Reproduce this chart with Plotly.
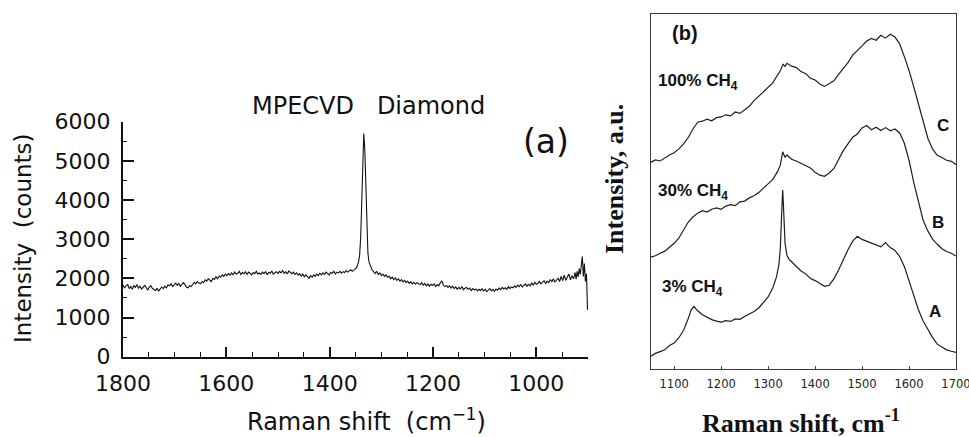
import plotly.graph_objects as go

# ---------------- (a) MPECVD diamond spectrum ----------------
shift_a = [
    1800, 1797, 1794, 1791, 1788, 1785, 1782, 1779, 1776, 1773,
    1770, 1767, 1764, 1761, 1758, 1755, 1752, 1749, 1746, 1743,
    1740, 1737, 1734, 1731, 1728, 1725, 1722, 1719, 1716, 1713,
    1710, 1707, 1704, 1701, 1698, 1695, 1692, 1689, 1686, 1683,
    1680, 1677, 1674, 1671, 1668, 1665, 1662, 1659, 1656, 1653,
    1650, 1647, 1644, 1641, 1638, 1635, 1632, 1629, 1626, 1623,
    1620, 1617, 1614, 1611, 1608, 1605, 1602, 1599, 1596, 1593,
    1590, 1587, 1584, 1581, 1578, 1575, 1572, 1569, 1566, 1563,
    1560, 1557, 1554, 1551, 1548, 1545, 1542, 1539, 1536, 1533,
    1530, 1527, 1524, 1521, 1518, 1515, 1512, 1509, 1506, 1503,
    1500, 1497, 1494, 1491, 1488, 1485, 1482, 1479, 1476, 1473,
    1470, 1467, 1464, 1461, 1458, 1455, 1452, 1449, 1446, 1443,
    1440, 1437, 1434, 1431, 1428, 1425, 1422, 1419, 1416, 1413,
    1410, 1407, 1404, 1401, 1398, 1395, 1392, 1389, 1386, 1383,
    1380, 1377, 1374, 1371, 1368, 1365, 1362, 1359, 1356, 1353,
    1350, 1348, 1346, 1344, 1342, 1340, 1338, 1336, 1334, 1332,
    1330, 1328, 1326, 1324, 1322, 1320, 1318,
    1315, 1312, 1309, 1306, 1303, 1300, 1297, 1294, 1291, 1288,
    1285, 1282, 1279, 1276, 1273, 1270, 1267, 1264, 1261, 1258,
    1255, 1252, 1249, 1246, 1243, 1240, 1237, 1234, 1231, 1228,
    1225, 1222, 1219, 1216, 1213, 1210, 1207, 1204, 1201, 1198,
    1195, 1192, 1189, 1186, 1183, 1180, 1177, 1174, 1171, 1168,
    1165, 1162, 1159, 1156, 1153, 1150, 1147, 1144, 1141, 1138,
    1135, 1132, 1129, 1126, 1123, 1120, 1117, 1114, 1111, 1108,
    1105, 1102, 1099, 1096, 1093, 1090, 1087, 1084, 1081, 1078,
    1075, 1072, 1069, 1066, 1063, 1060, 1057, 1054, 1051, 1048,
    1045, 1042, 1039, 1036, 1033, 1030, 1027, 1024, 1021, 1018,
    1015, 1012, 1009, 1006, 1003, 1000, 997, 994, 991, 988,
    985, 982, 979, 976, 973, 970, 967, 964, 961, 958,
    955, 952, 949, 946, 943, 940, 937, 934, 931, 928,
    925, 923, 921, 919, 917, 915, 913, 911, 909, 907, 905, 903, 902, 901,
]
counts_a = [
    1830, 1760, 1800, 1850, 1740, 1790, 1720, 1810, 1770, 1840,
    1750, 1800, 1730, 1790, 1820, 1760, 1700, 1780, 1810, 1740,
    1720, 1690, 1750, 1670, 1730, 1780, 1740, 1800, 1760, 1830,
    1810, 1860, 1790, 1850, 1880, 1820, 1870, 1800, 1850, 1890,
    1840, 1770, 1760, 1810, 1790, 1850, 1900, 1860, 1920, 1880,
    1860, 1920, 1890, 1960, 1930, 1990, 1950, 1920, 2000, 1970,
    2040, 1990, 2060, 2030, 2090, 2050, 2110, 2070, 2120, 2080,
    2140, 2090, 2160, 2110, 2130, 2180, 2100, 2150, 2120, 2170,
    2100, 2160, 2130, 2090, 2150, 2120, 2180, 2110, 2140, 2100,
    2160, 2120, 2170, 2090, 2150, 2130, 2190, 2110, 2140, 2170,
    2120, 2180, 2140, 2200, 2130, 2170, 2110, 2190, 2150, 2120,
    2160, 2100, 2140, 2080, 2120, 2060, 2110, 2040, 2090, 2030,
    2000, 2070, 2030, 2090, 2050, 2110, 2070, 2130, 2090, 2140,
    2100, 2160, 2120, 2090, 2150, 2130, 2180, 2110, 2160, 2140,
    2180, 2130, 2170, 2150, 2200, 2160, 2190, 2220, 2180, 2230,
    2250, 2270, 2330, 2420, 2600, 3050, 3900, 4900, 5700, 5300,
    4200, 3200, 2650, 2420, 2340, 2280, 2220,
    2170, 2120, 2180, 2100, 2140, 2070, 2110, 2050, 2090, 2030,
    2060, 1990, 2030, 1970, 2010, 1950, 1990, 1930, 1970, 1910,
    1950, 1890, 1930, 1870, 1910, 1860, 1900, 1850, 1890, 1870,
    1840, 1890, 1830, 1870, 1810, 1860, 1800, 1850, 1820, 1860,
    1790, 1840, 1810, 1880, 1940, 1830, 1790, 1820, 1770, 1810,
    1750, 1800, 1740, 1780, 1720, 1770, 1730, 1790, 1710, 1750,
    1770, 1720, 1750, 1690, 1740, 1700, 1730, 1680, 1720, 1690,
    1730, 1680, 1720, 1660, 1710, 1740, 1680, 1720, 1670, 1730,
    1700, 1750, 1710, 1770, 1730, 1760, 1720, 1790, 1740, 1780,
    1760, 1810, 1770, 1830, 1790, 1840, 1780, 1820, 1860, 1800,
    1850, 1810, 1880, 1830, 1900, 1850, 1870, 1920, 1860, 1900,
    1940, 1870, 1930, 1890, 1970, 1910, 1990, 1900, 1960, 2010,
    1920, 2050, 1940, 2080, 1950, 2030, 2110, 1960, 2070, 1990,
    2150, 1980, 2180, 2040, 2250, 2100, 2400, 2560, 2050, 2380, 1920, 2120, 1700, 1200,
]

# ---------------- (b) spectra for three CH4 fractions ----------------
shift_c = [
    1050, 1060, 1070, 1080, 1090, 1100, 1110, 1120, 1130, 1140,
    1150, 1160, 1170, 1180, 1190, 1200, 1210, 1220, 1230, 1240,
    1250, 1260, 1270, 1280, 1290, 1300, 1310, 1320, 1326, 1332,
    1336, 1340, 1350, 1360, 1370, 1380, 1390, 1400, 1410, 1420,
    1430, 1440, 1450, 1460, 1470, 1480, 1490, 1500, 1510, 1520,
    1530, 1540, 1550, 1560, 1570, 1580, 1590, 1600, 1610, 1620,
    1630, 1640, 1650, 1660, 1670, 1680, 1690, 1700,
]
int_c = [
    58.2, 58.9, 58.6, 59.5, 60.3, 60.9, 62.0, 63.4, 65.2, 67.6,
    69.5, 69.8, 70.4, 69.9, 70.8, 71.0, 71.6, 71.3, 72.4, 72.0,
    73.1, 74.0, 75.6, 76.8, 78.2, 79.4, 80.6, 82.8, 84.0, 85.9,
    85.2, 86.1, 85.3, 84.9, 83.8, 83.2, 81.9, 81.4, 80.3, 79.6,
    80.4, 81.2, 83.0, 84.6, 86.3, 88.4, 89.6, 91.0, 92.4, 93.1,
    92.6, 94.0, 93.2, 94.3, 93.5, 91.6, 88.0, 84.1, 79.5, 74.4,
    69.6, 65.0, 62.0, 60.2, 59.6, 58.8, 58.5, 57.6,
]

shift_b = [
    1050, 1060, 1070, 1080, 1090, 1100, 1110, 1120, 1130, 1140,
    1150, 1160, 1170, 1180, 1190, 1200, 1210, 1220, 1230, 1240,
    1250, 1260, 1270, 1280, 1290, 1300, 1310, 1320, 1326, 1331,
    1336, 1340, 1350, 1360, 1370, 1380, 1390, 1400, 1410, 1420,
    1430, 1440, 1450, 1460, 1470, 1480, 1490, 1500, 1510, 1520,
    1530, 1540, 1550, 1560, 1570, 1580, 1590, 1600, 1610, 1620,
    1630, 1640, 1650, 1660, 1670, 1680, 1690, 1700,
]
int_b = [
    31.5, 31.9, 32.6, 33.2, 34.3, 35.4, 36.9, 39.0, 41.4, 42.8,
    43.9, 44.6, 44.2, 45.0, 45.4, 45.0, 45.9, 46.3, 46.0, 47.1,
    47.3, 48.2, 48.8, 49.7, 50.9, 52.0, 53.4, 55.6, 57.5, 61.2,
    59.6, 60.3, 59.1, 58.6, 57.9, 57.2, 56.6, 55.4, 54.6, 54.3,
    55.2, 56.5, 58.9, 61.5, 63.4, 65.3, 66.2, 67.9, 68.6, 67.4,
    68.1, 67.2, 68.0, 67.1, 67.6, 66.5, 63.6, 58.8, 52.6, 47.2,
    41.9, 38.9, 36.6, 35.2, 33.9, 33.1, 32.6, 31.8,
]

shift_a3 = [
    1050, 1060, 1070, 1080, 1090, 1100, 1110, 1120, 1130, 1136,
    1142, 1150, 1160, 1170, 1180, 1190, 1200, 1210, 1220, 1230,
    1240, 1250, 1260, 1270, 1280, 1290, 1300, 1310, 1318, 1323,
    1326, 1328, 1330, 1331, 1332, 1334, 1336, 1340, 1345, 1350,
    1360, 1370, 1380, 1390, 1400, 1410, 1420, 1430, 1440, 1450,
    1460, 1470, 1480, 1490, 1500, 1510, 1520, 1530, 1540, 1550,
    1560, 1570, 1580, 1590, 1600, 1610, 1620, 1630, 1640, 1650,
    1660, 1670, 1680, 1690, 1700,
]
int_a3 = [
    3.6, 4.4, 4.9, 5.4, 6.6, 7.3, 8.8, 10.9, 14.2, 16.6,
    17.6, 16.4, 15.3, 14.6, 13.9, 13.5, 13.2, 13.6, 13.4, 14.1,
    14.0, 14.8, 15.4, 16.2, 17.2, 18.6, 20.3, 22.9, 26.0, 29.5,
    34.0, 41.0, 48.5, 50.4, 48.0, 40.0, 35.5, 32.0, 30.8, 30.2,
    28.9, 27.6, 26.8, 25.5, 24.9, 24.1, 23.3, 23.6, 25.4, 27.9,
    30.8, 33.6, 36.0, 37.4, 36.5, 36.0, 35.3, 34.9, 34.4, 35.6,
    34.2, 33.4, 31.7, 28.9, 24.8, 20.8, 16.7, 13.5, 11.0, 8.9,
    7.0, 6.1, 5.4, 5.0, 4.7,
]

ticks_a_x = [1800, 1600, 1400, 1200, 1000]
ticks_a_y = [0, 1000, 2000, 3000, 4000, 5000, 6000]
ticks_b_x = [1100, 1200, 1300, 1400, 1500, 1600, 1700]

W, H = 969, 437
SANS = "DejaVu Sans"
SERIF = "Liberation Serif"
BSANS = "Liberation Sans"

fig = go.Figure()

fig.add_trace(go.Scatter(x=shift_a, y=counts_a, mode="lines",
                         line=dict(color="#111111", width=1.1),
                         xaxis="x", yaxis="y", showlegend=False))

for xs, ys in [(shift_c, int_c), (shift_b, int_b), (shift_a3, int_a3)]:
    fig.add_trace(go.Scatter(x=xs, y=ys, mode="lines",
                             line=dict(color="#1e1e1e", width=1.2),
                             xaxis="x2", yaxis="y2", showlegend=False))

fig.update_layout(
    width=W, height=H,
    margin=dict(l=0, r=0, t=0, b=0, autoexpand=False),
    paper_bgcolor="white", plot_bgcolor="white",
    xaxis=dict(
        domain=[123 / W, 588 / W], range=[1800, 900], automargin=False,
        tickvals=ticks_a_x, ticks="inside", ticklen=10, tickwidth=1.5,
        tickcolor="#111", showline=True, linecolor="#111", linewidth=2,
        showgrid=False, zeroline=False, ticklabelstandoff=6,
        tickfont=dict(family=SANS, size=22, color="#111"),
        minor=dict(dtick=50, tick0=0, ticks="inside", ticklen=5,
                   tickwidth=1.2, tickcolor="#111", showgrid=False),
        anchor="y",
    ),
    yaxis=dict(
        domain=[1 - 356.7 / H, 1 - 121.7 / H], range=[0, 6000], automargin=False,
        tickvals=ticks_a_y, ticks="inside", ticklen=11, tickwidth=1.5,
        tickcolor="#111", showline=True, linecolor="#111", linewidth=2,
        showgrid=False, zeroline=False, ticklabelstandoff=6,
        tickfont=dict(family=SANS, size=22, color="#111"),
        minor=dict(dtick=500, tick0=0, ticks="inside", ticklen=4,
                   tickwidth=1.2, tickcolor="#111", showgrid=False),
        anchor="x",
    ),
    xaxis2=dict(
        domain=[650.7 / W, 956 / W], range=[1050, 1700], automargin=False,
        tickvals=ticks_b_x, ticks="inside", ticklen=3, tickwidth=1,
        tickcolor="#444", showline=True, mirror=True, linecolor="#3a3a3a",
        linewidth=1.4, showgrid=False, zeroline=False, ticklabelstandoff=4,
        ticklabeloverflow="allow",
        tickfont=dict(family=SANS, size=11.5, color="#222"),
        anchor="y2",
    ),
    yaxis2=dict(
        domain=[1 - 369 / H, 1 - 14 / H], range=[0, 100], automargin=False,
        showticklabels=False, ticks="", showline=True, mirror=True,
        linecolor="#3a3a3a", linewidth=1.4, showgrid=False, zeroline=False,
        anchor="x2",
    ),
)

notes = [
    # panel (a)
    dict(text="MPECVD\u00a0\u00a0 Diamond", x=368 / W, y=1 - 105.6 / H,
         xref="paper", yref="paper", font=dict(family=SANS, size=24, color="#111")),
    dict(text="(a)", x=982, y=5507, xref="x", yref="y",
         font=dict(family=SANS, size=33, color="#111")),
    dict(text="Intensity\u00a0 (counts)", x=23 / W, y=1 - 238 / H, textangle=-90,
         xref="paper", yref="paper", font=dict(family=SANS, size=23, color="#111")),
    dict(text="Raman shift\u00a0 (cm<sup>\u22121</sup>)", x=366.7 / W, y=1 - 420 / H,
         xref="paper", yref="paper", font=dict(family=SANS, size=24, color="#111")),
    # panel (b)
    dict(text="<b>(b)</b>", x=1123, y=94.6, xref="x2", yref="y2",
         font=dict(family=BSANS, size=20, color="#111")),
    dict(text="<b>100% CH<sub>4</sub></b>", x=1151, y=80.8, xref="x2", yref="y2",
         font=dict(family=BSANS, size=17, color="#111")),
    dict(text="<b>C</b>", x=1672, y=68.7, xref="x2", yref="y2",
         font=dict(family=BSANS, size=17, color="#111")),
    dict(text="<b>30% CH<sub>4</sub></b>", x=1140, y=49.9, xref="x2", yref="y2",
         font=dict(family=BSANS, size=17, color="#111")),
    dict(text="<b>B</b>", x=1662, y=41.4, xref="x2", yref="y2",
         font=dict(family=BSANS, size=17, color="#111")),
    dict(text="<b>3% CH<sub>4</sub></b>", x=1138, y=22.8, xref="x2", yref="y2",
         font=dict(family=BSANS, size=17, color="#111")),
    dict(text="<b>A</b>", x=1655, y=16.1, xref="x2", yref="y2",
         font=dict(family=BSANS, size=17, color="#111")),
    dict(text="<b>Intensity, a.u.</b>", x=614 / W, y=1 - 179 / H, textangle=-90,
         xref="paper", yref="paper", font=dict(family=SERIF, size=26, color="#111")),
    dict(text="<b>Raman shift, cm<sup>-1</sup></b>", x=801 / W, y=1 - 421 / H,
         xref="paper", yref="paper", font=dict(family=SERIF, size=26, color="#111")),
]
for n in notes:
    fig.add_annotation(showarrow=False, xanchor="center", yanchor="middle", **n)

fig.write_html("out.html")
